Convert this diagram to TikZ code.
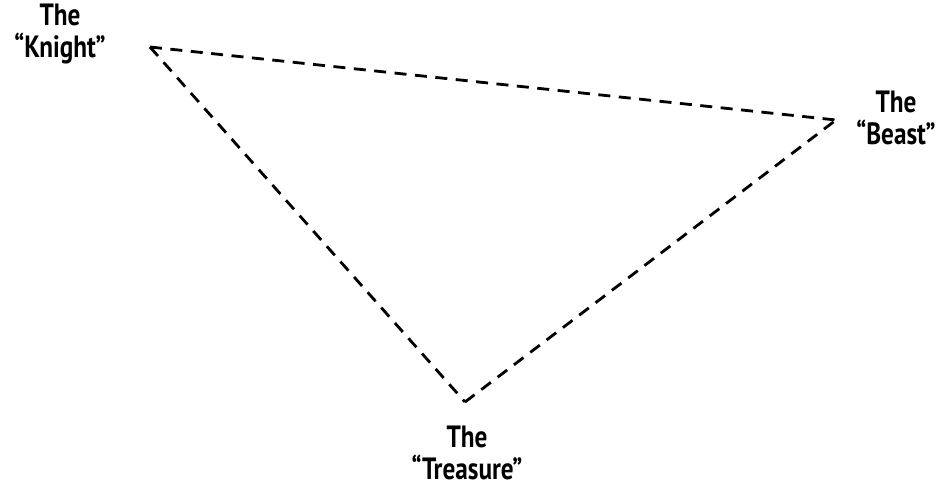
\documentclass[tikz,border=0pt]{standalone}
\usepackage{fontspec}
\setmainfont{PT Sans}[FakeStretch=0.82]
\usepackage{tikz}
\usetikzlibrary{positioning}

\begin{document}
\begin{tikzpicture}[
  x=0.02cm, y=-0.02cm,
  lbl/.style={align=center, font=\fontsize{17.5}{18}\selectfont\bfseries,
              inner sep=0pt},
  edge/.style={draw, line width=1.6pt, dash pattern=on 0.24cm off 0.17cm},
]
  \useasboundingbox (0,0) rectangle (941,488);

  %% ---- corners ----
  \coordinate (knight) at (150,47);
  \coordinate (beast)  at (836,120);
  \coordinate (treasure) at (465,402);

  %% ---- labels ----
  \node[lbl] (knightlbl)   at (60,34)   {The\\``Knight''};
  \node[lbl] (beastlbl)    at (896,118) {The\\``Beast''};
  \node[lbl] (treasurelbl) at (467,453) {The\\``Treasure''};

  %% ---- triangle ----
  \draw[edge] (knight) -- (beast);
  \draw[edge] (treasure) -- (beast);
  \draw[edge] (knight) -- (treasure);
\end{tikzpicture}
\end{document}
